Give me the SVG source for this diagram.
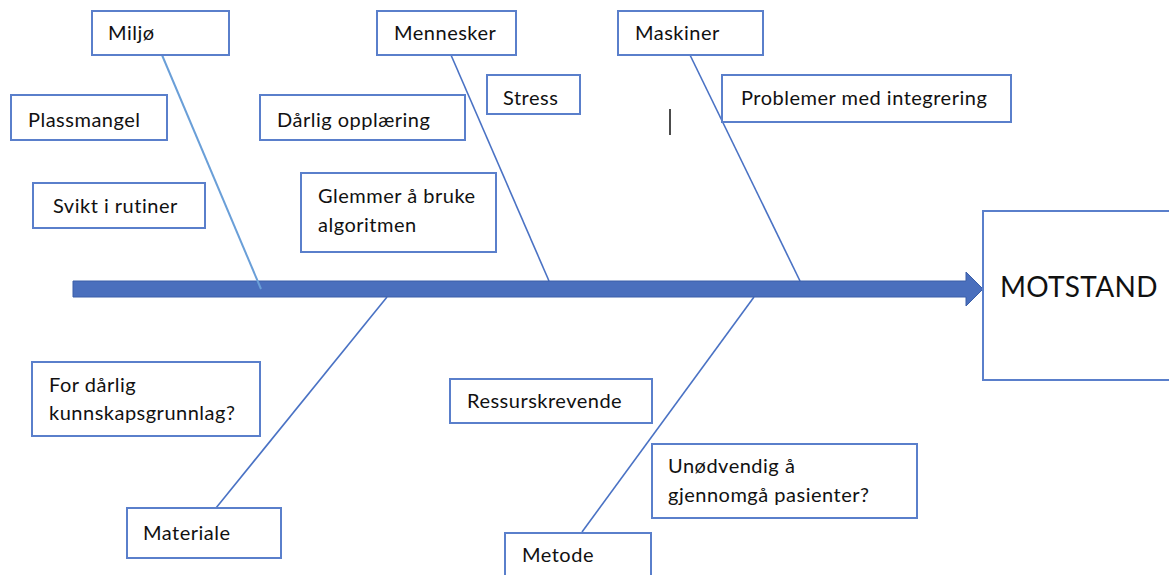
<svg xmlns="http://www.w3.org/2000/svg" width="1169" height="575" viewBox="0 0 1169 575">
<style>
.box{fill:#fff;stroke:#5a7fcb;stroke-width:2}
.t{font-family:Lato,"Open Sans",sans-serif;font-size:20px;letter-spacing:0.5px;fill:#111}
.br{stroke:#4a72c4;stroke-width:1.6;fill:none}
</style>
<rect width="1169" height="575" fill="#fff"/>
<g id="connectors">
<line class="br" x1="451" y1="55" x2="549" y2="281"/>
<line class="br" x1="690" y1="55" x2="800" y2="281"/>
<line class="br" x1="387" y1="297" x2="216" y2="508"/>
<line class="br" x1="754" y1="297" x2="582" y2="532"/>
<path id="spine" d="M73,281 H966 V272 L983,289 L966,306 V297 H73 Z" fill="#4a6fbd" stroke="#3a5ea8" stroke-width="1"/>
<line class="br" x1="162" y1="55" x2="261" y2="289" style="stroke:#6a9fd8;stroke-width:2"/>
<line x1="670" y1="109" x2="670" y2="135" stroke="#111" stroke-width="1.5"/>
</g>
<g id="miljo"><rect class="box" x="92" y="11" width="137" height="44"/><text class="t" x="108" y="40">Miljø</text></g>
<g id="plassmangel"><rect class="box" x="11" y="95" width="156" height="45"/><text class="t" x="28" y="127">Plassmangel</text></g>
<g id="svikt"><rect class="box" x="33" y="183" width="172" height="45"/><text class="t" x="53" y="213">Svikt i rutiner</text></g>
<g id="mennesker"><rect class="box" x="377" y="11" width="139" height="44"/><text class="t" x="394" y="40">Mennesker</text></g>
<g id="darlig"><rect class="box" x="260" y="95" width="205" height="45"/><text class="t" x="277" y="127">Dårlig opplæring</text></g>
<g id="stress"><rect class="box" x="487" y="75" width="93" height="39"/><text class="t" x="503" y="105">Stress</text></g>
<g id="glemmer"><rect class="box" x="301" y="173" width="195" height="79"/><text class="t" x="318" y="203">Glemmer å bruke</text><text class="t" x="318" y="232">algoritmen</text></g>
<g id="maskiner"><rect class="box" x="618" y="11" width="145" height="44"/><text class="t" x="635" y="40">Maskiner</text></g>
<g id="problemer"><rect class="box" x="722" y="75" width="289" height="47"/><text class="t" x="741" y="105">Problemer med integrering</text></g>
<g id="motstand"><rect class="box" x="983" y="211" width="190" height="169"/><text class="t" x="1000" y="297" style="font-size:28px;letter-spacing:0.3px">MOTSTAND</text></g>
<g id="kunnskap"><rect class="box" x="32" y="362" width="228" height="74"/><text class="t" x="49" y="392">For dårlig</text><text class="t" x="49" y="420">kunnskapsgrunnlag?</text></g>
<g id="materiale"><rect class="box" x="127" y="508" width="154" height="50"/><text class="t" x="143" y="540">Materiale</text></g>
<g id="ressurs"><rect class="box" x="450" y="379" width="202" height="44"/><text class="t" x="467" y="408">Ressurskrevende</text></g>
<g id="unodvendig"><rect class="box" x="652" y="444" width="265" height="74"/><text class="t" x="668" y="473">Unødvendig å</text><text class="t" x="668" y="502">gjennomgå pasienter?</text></g>
<g id="metode"><rect class="box" x="505" y="533" width="146" height="50"/><text class="t" x="522" y="562">Metode</text></g>
</svg>
